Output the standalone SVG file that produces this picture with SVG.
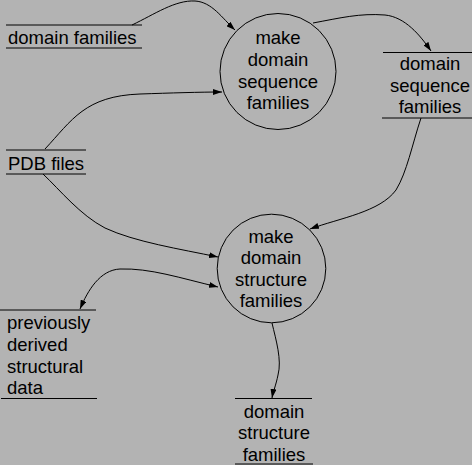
<svg xmlns="http://www.w3.org/2000/svg" width="472" height="465" viewBox="0 0 472 465">
<defs>
<marker id="ah" markerWidth="10" markerHeight="6" refX="9" refY="3" orient="auto-start-reverse" markerUnits="userSpaceOnUse">
<path d="M0,0 L9,3 L0,6 z" fill="#000"/>
</marker>
<style>
text{font-family:"Liberation Sans",Arial,sans-serif;font-size:18.5px;fill:#000}
.c{text-anchor:middle}
.n{fill:none;stroke:#000;stroke-width:1}
.e{fill:none;stroke:#000;stroke-width:1;marker-end:url(#ah)}
</style>
</defs>
<rect width="472" height="465" fill="#b3b3b3"/>
<g id="connectors">
<path class="e" d="M132,25 C155,14 175,0 195,1 C212,2 222,18 235,30"/>
<path class="e" d="M45,149 C72,120 85,96 140,94 C170,93 200,92 222,92"/>
<path class="e" d="M313,23 C340,18 360,13 385,15 C405,17 420,35 431,51"/>
<path class="e" d="M421,118 C412,145 407,172 396,190 C380,212 340,218 310,229"/>
<path class="e" d="M43,174 C60,190 80,215 105,228 C135,242 180,249 218,257"/>
<path class="e" style="marker-start:url(#ah)" d="M80,309 C88,290 100,270 120,269 C150,268 180,278 218,287"/>
<path class="e" d="M272,323 C276,340 282,360 278,375 C276,385 273,392 272,398"/>
</g>
<g id="domain-families">
<path class="n" d="M6,25 H142 M6,48 H142"/>
<text x="8" y="44">domain families</text>
</g>
<g id="pdb-files">
<path class="n" d="M6,150 H86 M6,174 H86"/>
<text x="8" y="170">PDB files</text>
</g>
<g id="make-domain-sequence-families">
<circle class="n" cx="278" cy="71.5" r="58"/>
<text class="c" x="278" y="44">make</text>
<text class="c" x="278" y="66">domain</text>
<text class="c" x="278" y="87.5">sequence</text>
<text class="c" x="278" y="109">families</text>
</g>
<g id="domain-sequence-families">
<path class="n" d="M383,52.5 H472 M382,118 H472"/>
<text class="c" x="430" y="70">domain</text>
<text class="c" x="430" y="91.5">sequence</text>
<text class="c" x="430" y="113">families</text>
</g>
<g id="make-domain-structure-families">
<circle class="n" cx="271.5" cy="268.5" r="54.3"/>
<text class="c" x="271" y="242.5">make</text>
<text class="c" x="271" y="264">domain</text>
<text class="c" x="271" y="285.5">structure</text>
<text class="c" x="271" y="307">families</text>
</g>
<g id="previously-derived-structural-data">
<path class="n" d="M0,310 H96 M1,398.5 H97"/>
<text x="7" y="329">previously</text>
<text x="7" y="350.5">derived</text>
<text x="7" y="372.5">structural</text>
<text x="7" y="393.5">data</text>
</g>
<g id="domain-structure-families">
<path class="n" d="M235,398.5 H312 M235,464 H313"/>
<text class="c" x="274" y="417.5">domain</text>
<text class="c" x="274" y="439">structure</text>
<text class="c" x="274" y="460.5">families</text>
</g>
</svg>
